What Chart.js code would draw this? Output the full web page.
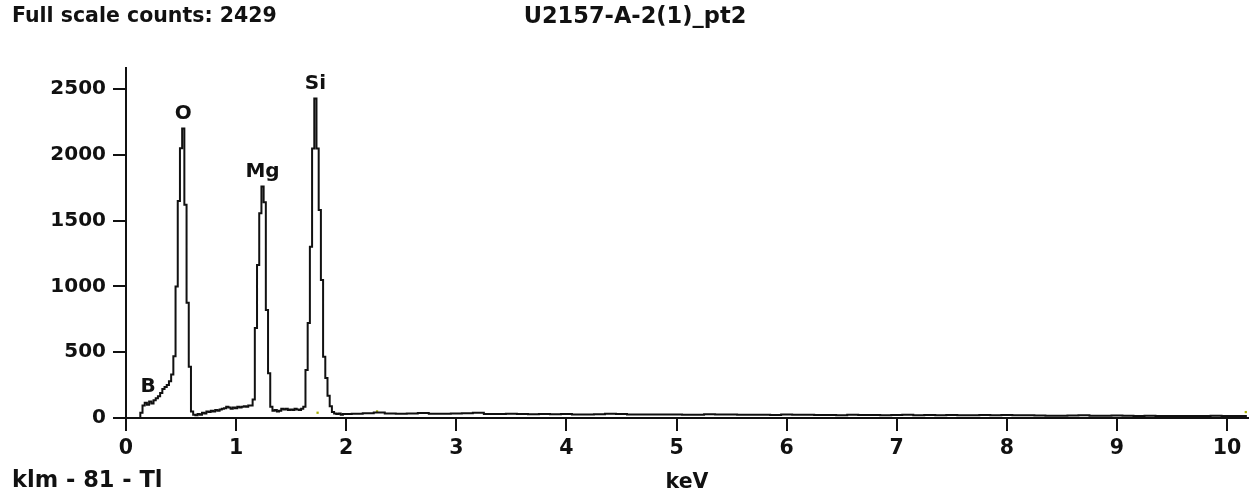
<!DOCTYPE html>
<html>
<head>
<meta charset="utf-8">
<script src="https://cdn.jsdelivr.net/npm/chart.js@4.4.1/dist/chart.umd.min.js"></script>
<style>
  body { margin: 0; background: #fff; }
  canvas { display: block; }
</style>
</head>
<body>
<canvas id="spectrum" width="1252" height="496"></canvas>
<script>
// テキスト
const headerLeft = "Full scale counts: 2429";
const headerTitle = "U2157-A-2(1)_pt2";
const footerLeft = "klm - 81 - Tl";
const axisTitle = "keV";

// 目盛り
const xTickValues = [0, 1, 2, 3, 4, 5, 6, 7, 8, 9, 10];
const yTickValues = [0, 500, 1000, 1500, 2000, 2500];

// スペクトル (keV, counts)
const energies = [
  0.00, 0.02, 0.04, 0.06, 0.08, 0.10, 0.12, 0.14, 0.16, 0.18,
  0.20, 0.22, 0.24, 0.26, 0.28, 0.30, 0.32, 0.34, 0.36, 0.38,
  0.40, 0.42, 0.44, 0.46, 0.48, 0.50, 0.52, 0.54, 0.56, 0.58,
  0.60, 0.62, 0.64, 0.66, 0.68, 0.70, 0.72, 0.74, 0.76, 0.78,
  0.80, 0.82, 0.84, 0.86, 0.88, 0.90, 0.92, 0.94, 0.96, 0.98,
  1.00, 1.02, 1.04, 1.06, 1.08, 1.10, 1.12, 1.14, 1.16, 1.18,
  1.20, 1.22, 1.24, 1.26, 1.28, 1.30, 1.32, 1.34, 1.36, 1.38,
  1.40, 1.42, 1.44, 1.46, 1.48, 1.50, 1.52, 1.54, 1.56, 1.58,
  1.60, 1.62, 1.64, 1.66, 1.68, 1.70, 1.72, 1.74, 1.76, 1.78,
  1.80, 1.82, 1.84, 1.86, 1.88, 1.90, 1.92, 1.94, 1.96, 1.98,
  2.00, 2.1, 2.2, 2.3, 2.4, 2.5, 2.6, 2.7, 2.8, 2.9,
  3.0, 3.1, 3.2, 3.3, 3.4, 3.5, 3.6, 3.7, 3.8, 3.9,
  4.0, 4.1, 4.2, 4.3, 4.4, 4.5, 4.6, 4.7, 4.8, 4.9,
  5.0, 5.1, 5.2, 5.3, 5.4, 5.5, 5.6, 5.7, 5.8, 5.9,
  6.0, 6.1, 6.2, 6.3, 6.4, 6.5, 6.6, 6.7, 6.8, 6.9,
  7.0, 7.1, 7.2, 7.3, 7.4, 7.5, 7.6, 7.7, 7.8, 7.9,
  8.0, 8.1, 8.2, 8.3, 8.4, 8.5, 8.6, 8.7, 8.8, 8.9,
  9.0, 9.1, 9.2, 9.3, 9.4, 9.5, 9.6, 9.7, 9.8, 9.9,
  10.0, 10.1, 10.18
];
const counts = [
  0, 0, 0, 0, 0, 0, 0, 40, 95, 115,
  100, 125, 110, 135, 150, 165, 190, 220, 235, 250,
  280, 330, 470, 1000, 1650, 2050, 2200, 1620, 875, 390,
  50, 25, 20, 30, 25, 40, 35, 50, 45, 55,
  50, 60, 55, 65, 70, 75, 85, 80, 70, 80,
  75, 85, 80, 85, 90, 85, 95, 95, 140, 684,
  1163, 1557, 1760, 1640, 820, 340, 86, 55, 60, 50,
  55, 70, 65, 70, 60, 65, 60, 70, 65, 60,
  70, 86, 365, 722, 1302, 2049, 2429, 2049, 1580, 1049,
  466, 304, 170, 90, 45, 35, 30, 35, 25, 30,
  30, 33, 36, 42, 34, 33, 35, 38, 33, 32,
  34, 36, 40, 31, 30, 33, 31, 29, 30, 28,
  30, 27, 27, 28, 32, 30, 27, 26, 27, 26,
  26, 25, 25, 28, 26, 27, 25, 24, 25, 23,
  27, 25, 24, 22, 23, 21, 24, 22, 23, 21,
  22, 24, 20, 22, 21, 23, 20, 21, 22, 20,
  22, 20, 21, 19, 18, 18, 19, 21, 18, 17,
  19, 17, 16, 17, 16, 16, 15, 15, 16, 18,
  15, 15, 16
];

// ピーク名
const peakNames = ["B", "O", "Mg", "Si"];
const peakEnergies = [0.20, 0.52, 1.24, 1.72];

// 小さなマーカー
const markerEnergies = [1.74, 2.28, 10.17];
const markerCounts = [40, 50, 45];

// ピーク付近の最大値
function localMax(e) {
  let m = 0;
  energies.forEach((x, i) => {
    if (Math.abs(x - e) <= 0.03) m = Math.max(m, counts[i]);
  });
  return m;
}

const FONT = '"DejaVu Sans", Verdana, sans-serif';

// ヘッダー・フッター・ピーク名を描く
const textPlugin = {
  id: "texts",
  afterDraw(chart) {
    const ctx = chart.ctx;
    const xs = chart.scales.x;
    const ys = chart.scales.y;
    ctx.save();
    ctx.fillStyle = "#111";
    ctx.textBaseline = "middle";
    ctx.textAlign = "left";
    ctx.font = "bold 20.5px " + FONT;
    ctx.fillText(headerLeft, 12, 17);
    ctx.font = "bold 22.5px " + FONT;
    ctx.fillText(footerLeft, 12, 481);
    ctx.textAlign = "center";
    ctx.fillText(headerTitle, 635, 17);

    ctx.font = "bold 20px " + FONT;
    ctx.textBaseline = "bottom";
    peakNames.forEach((name, i) => {
      const px = xs.getPixelForValue(peakEnergies[i]);
      const py = ys.getPixelForValue(localMax(peakEnergies[i]));
      ctx.fillText(name, px, py - 5);
    });
    ctx.restore();
  }
};

const chart = new Chart(document.getElementById("spectrum"), {
  type: "scatter",
  data: {
    datasets: [
      {
        data: energies.map((e, i) => ({ x: e, y: counts[i] })),
        showLine: true,
        stepped: "middle",
        borderColor: "#111",
        borderWidth: 2,
        pointRadius: 0
      },
      {
        data: markerEnergies.map((e, i) => ({ x: e, y: markerCounts[i] })),
        pointStyle: "rect",
        pointRadius: 1.6,
        backgroundColor: "#a8b000",
        borderWidth: 0
      }
    ]
  },
  options: {
    responsive: false,
    animation: false,
    layout: { padding: { top: 68, right: 3, left: 0, bottom: 0 } },
    plugins: { legend: { display: false }, tooltip: { enabled: false } },
    scales: {
      x: {
        type: "linear",
        min: 0,
        max: 10.19,
        afterBuildTicks: (s) => { s.ticks = xTickValues.map(v => ({ value: v })); },
        afterFit: (s) => { s.height = 78; },
        grid: { drawOnChartArea: false, drawTicks: true, tickLength: 13, color: "#111", lineWidth: 2 },
        border: { color: "#111", width: 2 },
        ticks: {
          color: "#111", padding: 5, maxRotation: 0, autoSkip: false,
          font: { family: FONT, size: 20.5, weight: "bold" },
          callback: (v) => String(v)
        },
        title: { display: true, text: axisTitle, color: "#111", padding: { top: 0, bottom: 1 }, font: { family: FONT, size: 20.5, weight: "bold" } }
      },
      y: {
        type: "linear",
        min: 0,
        max: 2660,
        afterBuildTicks: (s) => { s.ticks = yTickValues.map(v => ({ value: v })); },
        afterFit: (s) => { s.width = 126; },
        grid: { drawOnChartArea: false, drawTicks: true, tickLength: 13, color: "#111", lineWidth: 2 },
        border: { color: "#111", width: 2 },
        ticks: {
          color: "#111", padding: 7,
          font: { family: FONT, size: 20, weight: "bold" },
          callback: (v) => String(v)
        }
      }
    }
  },
  plugins: [textPlugin]
});
</script>
</body>
</html>
